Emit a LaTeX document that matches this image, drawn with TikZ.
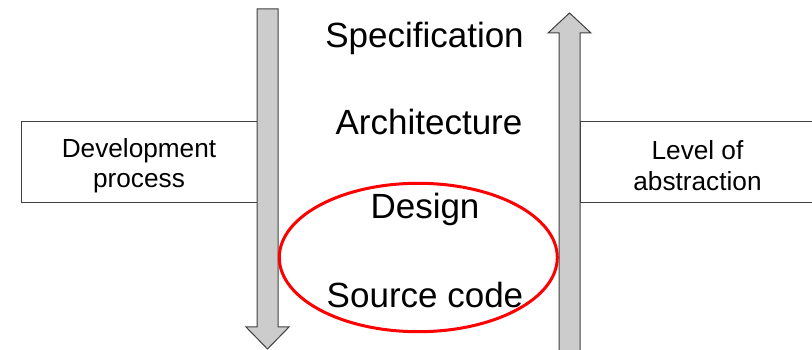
\documentclass[tikz,border=0pt]{standalone}
\usepackage{fontspec}
\setmainfont{Liberation Sans}
\usepackage{tikz}
\definecolor{shaftgray}{HTML}{CCCCCC}
\definecolor{edgegray}{HTML}{404040}
\tikzset{
    blockarrow/.style={fill=shaftgray,draw=edgegray,line width=1pt},
    sidebox/.style={draw=edgegray,line width=1pt},
    sidelabel/.style={align=center,font=\fontsize{26.2}{30.5}\selectfont},
    level/.style={anchor=base,font=\fontsize{35}{40}\selectfont}
}
\begin{document}
\begin{tikzpicture}[x=1pt,y=1pt]
            \useasboundingbox (0, 0) rectangle (812, 350);
            % side boxes
            \draw[sidebox] (21, 147) rectangle (257, 228);
            \draw[sidebox] (580, 147) rectangle (820, 228);
            \node[sidelabel] (devproc) at (139, 184.5) {Development\\process};
            \node[sidelabel] (abstr) at (697.5, 184.5) {Level of\\abstraction};
            % downward arrow
            \draw[blockarrow] (257, 341) -- (278, 341) -- (278, 23) -- (289, 23)
                -- (267.5, 1) -- (246, 23) -- (257, 23) -- cycle;
            % upward arrow
            \draw[blockarrow] (559, -2) -- (559, 317) -- (548, 317) -- (569.5, 337)
                -- (591, 317) -- (580, 317) -- (580, -2);
            % levels
            \node[level] (spec) at (424.5, 302) {Specification};
            \node[level] (arch) at (429, 215) {Architecture};
            \node[level] (design) at (425, 131) {Design};
            \node[level] (source) at (425, 42) {Source code};
            \draw[red, line width=3pt] (418.3, 92.5) ellipse (139 and 74.2);
        \end{tikzpicture}
\end{document}
